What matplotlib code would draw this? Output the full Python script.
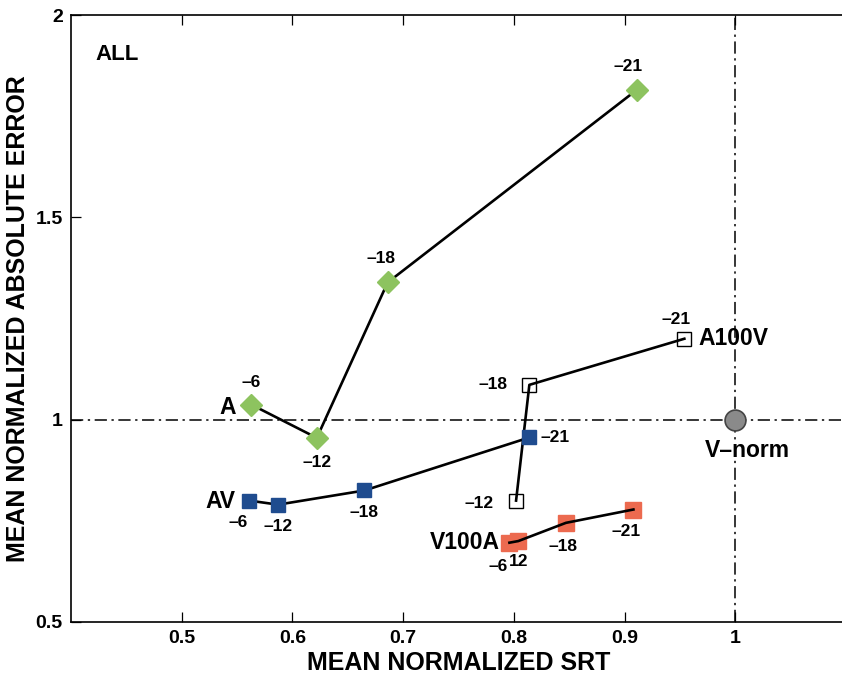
import matplotlib
matplotlib.use("Agg")
import matplotlib.pyplot as plt
from matplotlib import font_manager as fm

snr_labels = ["-6", "-12", "-18", "-21"]

a_x = [0.563, 0.622, 0.686, 0.911]
a_y = [1.037, 0.955, 1.339, 1.815]

av_x = [0.561, 0.587, 0.665, 0.814]
av_y = [0.800, 0.790, 0.825, 0.956]

a100v_snr = ["-12", "-18", "-21"]
a100v_x = [0.802, 0.814, 0.954]
a100v_y = [0.800, 1.086, 1.200]

v100a_x = [0.796, 0.804, 0.847, 0.908]
v100a_y = [0.696, 0.700, 0.745, 0.778]

vnorm_x = [1.0]
vnorm_y = [1.0]

x_ticks = [0.5, 0.6, 0.7, 0.8, 0.9, 1.0]
x_ticklabels = ["0.5", "0.6", "0.7", "0.8", "0.9", "1"]
y_ticks = [0.5, 1.0, 1.5, 2.0]
y_ticklabels = ["0.5", "1", "1.5", "2"]

names = set(f.name for f in fm.fontManager.ttflist)
narrow = "Liberation Sans Narrow" if "Liberation Sans Narrow" in names else "Liberation Sans"
plt.rcParams['font.family'] = ['Liberation Sans', 'DejaVu Sans']

fig = plt.figure(figsize=(8.42, 6.83), dpi=100)
ax = fig.add_axes([71/842, 61/683, 775/842, 607/683])
ax.set_xlim(0.4, 1.1)
ax.set_ylim(0.5, 2.0)

ax.axhline(1.0, color='black', lw=1.1, ls=(0, (8, 3, 1.5, 3)), zorder=1)
ax.axvline(1.0, color='black', lw=1.1, ls=(0, (8, 3, 1.5, 3)), zorder=1)

green = '#8dc35f'
blue = '#1f4c8f'
red = '#ec6a4f'

ax.plot(a_x, a_y, color='black', lw=1.9, zorder=2)
ax.plot(a_x, a_y, ls='none', marker='D', ms=11.5, mfc=green, mec=green, zorder=3)
ax.plot(av_x, av_y, color='black', lw=1.9, zorder=2)
ax.plot(av_x, av_y, ls='none', marker='s', ms=10, mfc=blue, mec=blue, zorder=3)
ax.plot(a100v_x, a100v_y, color='black', lw=1.9, zorder=2)
ax.plot(a100v_x, a100v_y, ls='none', marker='s', ms=9.5, mfc='none', mec='black', mew=1.0, zorder=3)
ax.plot(v100a_x, v100a_y, ls='none', marker='s', ms=11, mfc=red, mec=red, zorder=2)
ax.plot(v100a_x, v100a_y, color='black', lw=1.9, zorder=3)
ax.plot(vnorm_x, vnorm_y, ls='none', marker='o', ms=15, mfc='#8a8a8a', mec='#444444', mew=1.2, zorder=3)

nfs = 12.5
def lab(x, y, s, dx, dy, ha='center', va='center', fs=nfs):
    ax.annotate(s.replace('-', '\u2013'), (x, y), xytext=(dx, dy), textcoords='offset points',
                ha=ha, va=va, fontsize=fs, fontweight='bold', family=narrow)

# A labels
lab(a_x[0], a_y[0], snr_labels[0], 0, 16)
lab(a_x[1], a_y[1], snr_labels[1], 0, -18)
lab(a_x[2], a_y[2], snr_labels[2], -5, 17)
lab(a_x[3], a_y[3], snr_labels[3], -6, 17)
# AV labels
lab(av_x[0], av_y[0], snr_labels[0], -8, -16)
lab(av_x[1], av_y[1], snr_labels[1], 0, -16)
lab(av_x[2], av_y[2], snr_labels[2], 0, -16)
lab(av_x[3], av_y[3], snr_labels[3], 8, 0, ha='left')
# A100V labels
lab(a100v_x[0], a100v_y[0], a100v_snr[0], -16, -2, ha='right')
lab(a100v_x[1], a100v_y[1], a100v_snr[1], -16, 0, ha='right')
lab(a100v_x[2], a100v_y[2], a100v_snr[2], -6, 14)
# V100A labels
lab(v100a_x[0], v100a_y[0], snr_labels[0], -8, -17)
lab(v100a_x[1], v100a_y[1], snr_labels[1].lstrip('-'), 0, -15)
lab(v100a_x[2], v100a_y[2], snr_labels[2], -2, -17)
lab(v100a_x[3], v100a_y[3], snr_labels[3], -5, -16)

gfs = 16.5
def glab(x, y, s, dx, dy, ha, va='center'):
    ax.annotate(s, (x, y), xytext=(dx, dy), textcoords='offset points',
                ha=ha, va=va, fontsize=gfs, fontweight='bold')

glab(a_x[0], a_y[0], "A", -11, -2, 'right')
glab(av_x[0], av_y[0], "AV", -10, -1, 'right')
glab(v100a_x[0], v100a_y[0], "V100A", -7, 0, 'right')
glab(a100v_x[2], a100v_y[2], "A100V", 10, 0, 'left')
glab(vnorm_x[0], vnorm_y[0], "V\u2013norm", 9, -22, 'center')
ax.text(0.031, 0.935, "ALL", transform=ax.transAxes, fontsize=16, fontweight='bold', ha='left', va='center')

ax.set_xticks(x_ticks)
ax.set_xticklabels(x_ticklabels)
ax.set_yticks(y_ticks)
ax.set_yticklabels(y_ticklabels)
ax.tick_params(direction='in', length=7, width=0.9, top=True, right=False, labelsize=14, pad=6)
for t in ax.get_xticklabels() + ax.get_yticklabels():
    t.set_fontweight('bold')
    t.set_family(narrow)
for s in ax.spines.values():
    s.set_linewidth(1.2)

ax.set_xlabel("MEAN NORMALIZED SRT", fontsize=18, fontweight='bold', family=narrow, labelpad=3)
ax.set_ylabel("MEAN NORMALIZED ABSOLUTE ERROR", fontsize=18, fontweight='bold', family=narrow, labelpad=4)

fig.savefig("out.png", dpi=100)
